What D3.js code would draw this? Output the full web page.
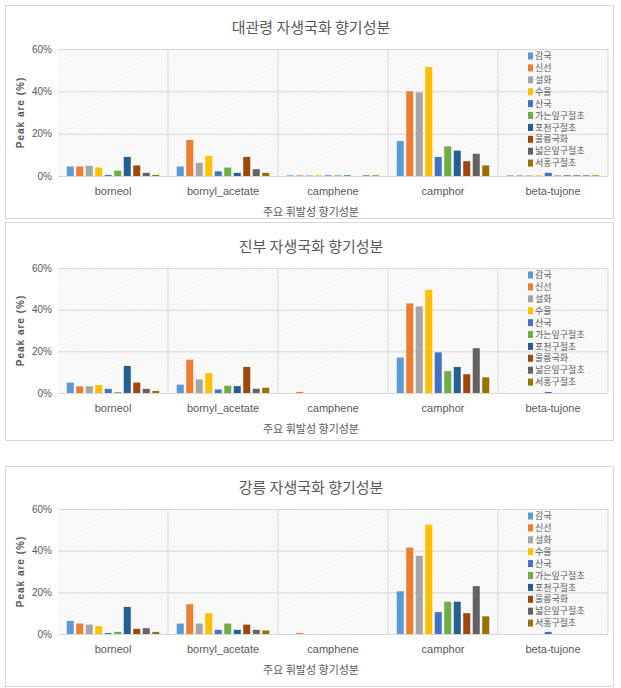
<!DOCTYPE html>
<html>
<head>
<meta charset="utf-8">
<script src="https://cdn.jsdelivr.net/npm/d3@7"></script>
<style>
  body { margin: 0; background: #fff; }
  svg { display: block; }
  text { fill: #595959; }
</style>
</head>
<body>
<svg width="621" height="688"></svg>
<script>
var categories = ['borneol', 'bornyl_acetate', 'camphene', 'camphor', 'beta-tujone'];
var series = ['감국', '신선', '설화', '수율', '산국', '가는잎구절초', '포천구절초', '울릉국화', '넓은잎구절초', '서홍구절초'];
var colors = ['#5b9bd5', '#ed7d31', '#a5a5a5', '#ffc000', '#4472c4', '#70ad47', '#255e91', '#9e480e', '#636363', '#997300'];
var yTicks = [0, 20, 40, 60];
var titles = ['대관령 자생국화 향기성분', '진부 자생국화 향기성분', '강릉 자생국화 향기성분'];

// values per category, one number per series (%)
var daegwallyeong = [
    [4.5, 4.5, 4.8, 4.0, 0.5, 2.5, 9.0, 5.0, 1.5, 0.5],
    [4.5, 17.0, 6.2, 9.5, 2.2, 4.0, 1.5, 9.0, 3.2, 1.5],
    [0.3, 0.3, 0.3, 0.3, 0.3, 0.3, 0.3, 0, 0.3, 0.3],
    [16.5, 40.0, 39.5, 51.5, 9.0, 14.0, 12.0, 7.0, 10.5, 5.0],
    [0.3, 0.3, 0.3, 0.3, 1.5, 0.3, 0.3, 0.3, 0.3, 0.3]
];
var jinbu = [
    [5.0, 3.2, 3.2, 3.8, 2.0, 0.4, 13.0, 5.0, 2.0, 1.0],
    [4.0, 16.0, 6.5, 9.5, 1.7, 3.5, 3.3, 12.5, 2.0, 2.5],
    [0, 0.5, 0, 0, 0, 0, 0, 0, 0, 0],
    [17.0, 43.0, 41.5, 49.5, 19.5, 10.5, 12.5, 9.0, 21.5, 7.5],
    [0, 0, 0, 0, 0.5, 0, 0, 0, 0, 0]
];
var gangneung = [
    [6.3, 5.0, 4.5, 3.8, 0.5, 1.0, 13.0, 2.5, 2.8, 1.0],
    [5.0, 14.3, 5.0, 10.0, 2.0, 5.0, 2.0, 4.5, 2.0, 1.7],
    [0, 0.5, 0, 0, 0, 0, 0, 0, 0, 0],
    [20.5, 41.5, 37.5, 52.5, 10.5, 15.5, 15.5, 10.0, 23.0, 8.5],
    [0, 0, 0, 0, 1.0, 0, 0, 0, 0, 0]
];

var panels = [
    {title: titles[0], values: daegwallyeong, box: [5, 5, 608, 213], top: 49, bottom: 176},
    {title: titles[1], values: jinbu, box: [5, 222, 608, 218], top: 268, bottom: 393},
    {title: titles[2], values: gangneung, box: [5, 466, 608, 220], top: 509, bottom: 634}
];

var korFont = '"Noto Sans CJK KR", sans-serif';
var latFont = '"Liberation Sans Narrow", "Liberation Sans", sans-serif';

var svg = d3.select('svg');

var defs = svg.append('defs');
var pat = defs.append('pattern')
    .attr('id', 'hatch')
    .attr('width', 3).attr('height', 3)
    .attr('patternUnits', 'userSpaceOnUse')
    .attr('patternTransform', 'rotate(45)');
pat.append('rect').attr('width', 3).attr('height', 3).attr('fill', '#fbfbfb');
pat.append('line').attr('x1', 0).attr('y1', 0).attr('x2', 0).attr('y2', 3)
    .attr('stroke', '#ececec').attr('stroke-width', 1);

var left = 58, right = 608;

panels.forEach(function(p) {
    var g = svg.append('g');

    g.append('rect')
        .attr('x', p.box[0] + 0.5).attr('y', p.box[1] + 0.5)
        .attr('width', p.box[2]).attr('height', p.box[3])
        .attr('fill', '#fff').attr('stroke', '#d9d9d9');

    var x0 = d3.scaleBand().domain(categories).range([left, right]);
    var x1 = d3.scaleBand().domain(series).range([0, x0.bandwidth()])
        .paddingInner(0.26).paddingOuter(0.92);
    var y = d3.scaleLinear().domain([0, 60]).range([p.bottom, p.top]);

    // plot background
    g.append('rect')
        .attr('x', left).attr('y', p.top)
        .attr('width', right - left).attr('height', p.bottom - p.top)
        .attr('fill', 'url(#hatch)');

    // horizontal grid
    g.append('g')
        .attr('transform', 'translate(' + left + ',0)')
        .call(d3.axisLeft(y).tickValues(yTicks).tickSize(-(right - left)).tickFormat(function(d) { return d + '%'; }))
        .call(function(a) {
            a.select('.domain').remove();
            a.selectAll('line').attr('stroke', '#d9d9d9');
            a.selectAll('text')
                .attr('x', -6)
                .style('font-family', latFont)
                .style('font-size', '10px')
                .style('fill', '#595959');
        });

    // vertical category separators
    g.append('g').selectAll('line')
        .data(categories.slice(1).concat(['end']))
        .enter().append('line')
        .attr('x1', function(d) { return d === 'end' ? right : x0(d); })
        .attr('x2', function(d) { return d === 'end' ? right : x0(d); })
        .attr('y1', p.top).attr('y2', p.bottom)
        .attr('stroke', '#d9d9d9');

    // bars
    var groups = g.append('g').selectAll('g')
        .data(categories)
        .enter().append('g')
        .attr('transform', function(d) { return 'translate(' + x0(d) + ',0)'; });

    groups.selectAll('rect')
        .data(function(d, i) { return p.values[i].map(function(v, j) { return {s: series[j], v: v, c: colors[j]}; }); })
        .enter().append('rect')
        .attr('x', function(d) { return x1(d.s); })
        .attr('width', x1.bandwidth())
        .attr('y', function(d) { return y(d.v); })
        .attr('height', function(d) { return y(0) - y(d.v); })
        .attr('fill', function(d) { return d.c; });

    // x axis
    g.append('line')
        .attr('x1', left).attr('x2', right)
        .attr('y1', p.bottom + 0.5).attr('y2', p.bottom + 0.5)
        .attr('stroke', '#d9d9d9');
    g.append('g')
        .attr('transform', 'translate(0,' + p.bottom + ')')
        .call(d3.axisBottom(x0).tickSize(0).tickPadding(11))
        .call(function(a) {
            a.select('.domain').remove();
            a.selectAll('text')
                .style('font-family', latFont)
                .style('font-size', '11px')
                .style('fill', '#595959');
        });

    // titles
    g.append('text')
        .attr('x', 311).attr('y', p.top - 16)
        .attr('text-anchor', 'middle')
        .style('font-family', korFont)
        .style('font-size', '15px')
        .text(p.title);

    g.append('text')
        .attr('x', 311).attr('y', p.bottom + 40)
        .attr('text-anchor', 'middle')
        .style('font-family', korFont)
        .style('font-size', '11px')
        .text('주요 휘발성 향기성분');

    g.append('text')
        .attr('transform', 'translate(24,' + (p.top + p.bottom) / 2 + ') rotate(-90)')
        .attr('text-anchor', 'middle')
        .style('font-family', '"Liberation Sans", sans-serif')
        .style('font-size', '10px')
        .style('font-weight', 'bold')
        .style('letter-spacing', '1px')
        .text('Peak are (%)');

    // legend
    var legend = g.append('g')
        .attr('transform', 'translate(528,' + (p.top + 7) + ')');
    var item = legend.selectAll('g')
        .data(series)
        .enter().append('g')
        .attr('transform', function(d, i) { return 'translate(0,' + i * 11.9 + ')'; });
    item.append('rect')
        .attr('x', 0).attr('y', -3.5)
        .attr('width', 5).attr('height', 7)
        .attr('fill', function(d, i) { return colors[i]; });
    item.append('text')
        .attr('x', 7).attr('y', 0)
        .attr('dy', '0.35em')
        .style('font-family', korFont)
        .style('font-size', '9px')
        .text(function(d) { return d; });
});
</script>
</body>
</html>
